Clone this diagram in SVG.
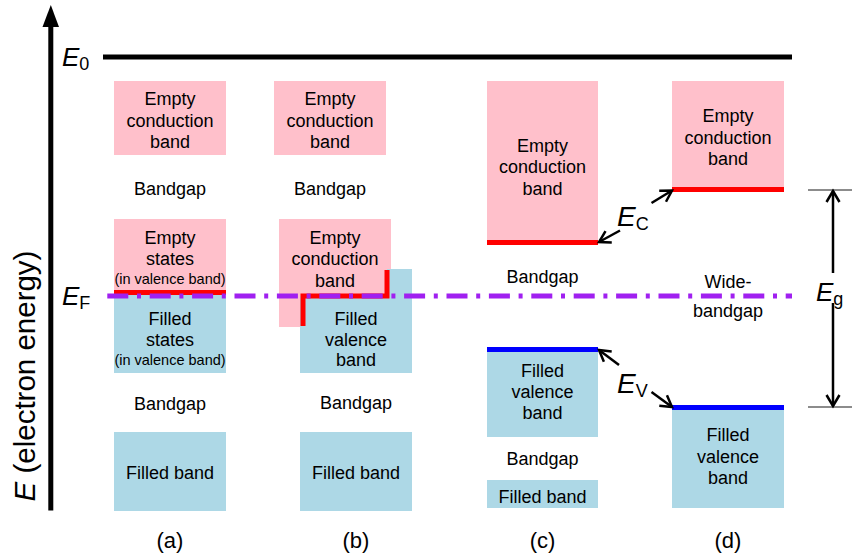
<svg xmlns="http://www.w3.org/2000/svg" width="852" height="557" viewBox="0 0 852 557">
<style>
.t{font-family:"Liberation Sans",Arial,Helvetica,sans-serif;font-size:18px;fill:#000;text-anchor:middle}
.s{font-size:14.5px}
.lab{font-family:"Liberation Sans",Arial,Helvetica,sans-serif;font-size:22px;fill:#000;text-anchor:middle}
.sym{font-family:"Liberation Sans",Arial,Helvetica,sans-serif;font-size:26px;font-style:italic;fill:#000}
.big{font-size:28px}
.sub{font-style:normal;font-size:18px}
.pk{fill:#ffc0cb}
.bl{fill:#add8e6}
.red{stroke:#ff0000;stroke-width:5;fill:none}
.blu{stroke:#0000ff;stroke-width:5;fill:none}
.arr{stroke:#000;stroke-width:2.5;fill:none}
.tick{stroke:#666;stroke-width:1.5}
</style>
<defs>
<marker id="ah" markerUnits="userSpaceOnUse" markerWidth="16" markerHeight="16" refX="13" refY="8" orient="auto-start-reverse" overflow="visible">
<path d="M2,1.5 L13,8 L2,14.5" fill="none" stroke="#000" stroke-width="2.5"/>
</marker>
</defs>
<rect width="852" height="557" fill="#fff"/>

<g id="axis">
<line x1="50.8" y1="24" x2="50.8" y2="510.5" stroke="#000" stroke-width="5"/>
<polygon points="50.8,5 42.5,27 59,27" fill="#000"/>
<text class="sym" style="font-size:29.5px" transform="translate(35,376) rotate(-90)" text-anchor="middle">E<tspan style="font-style:normal"> (electron energy)</tspan></text>
</g>

<g id="E0">
<line x1="103" y1="57" x2="792" y2="57" stroke="#000" stroke-width="5"/>
<text class="sym" x="62" y="66">E<tspan class="sub" dy="4">0</tspan></text>
</g>

<g id="col-a">
<rect class="pk" x="114" y="81" width="112" height="74"/>
<text class="t" x="170" y="105">Empty</text>
<text class="t" x="170" y="126.5">conduction</text>
<text class="t" x="170" y="148">band</text>
<text class="t" x="170" y="194.5">Bandgap</text>
<rect class="pk" x="114" y="219" width="112" height="74"/>
<text class="t" x="170" y="243.5">Empty</text>
<text class="t" x="170" y="265">states</text>
<text class="t s" x="170" y="284">(in valence band)</text>
<rect class="bl" x="114" y="293" width="112" height="80"/>
<line class="red" x1="114" y1="292.5" x2="226" y2="292.5"/>
<text class="t" x="170" y="325">Filled</text>
<text class="t" x="170" y="345.5">states</text>
<text class="t s" x="170" y="365">(in valence band)</text>
<text class="t" x="170" y="409.5">Bandgap</text>
<rect class="bl" x="114" y="432" width="112" height="79"/>
<text class="t" x="170" y="479">Filled band</text>
</g>

<g id="col-b">
<rect class="pk" x="274" y="81" width="112" height="74"/>
<text class="t" x="330" y="105">Empty</text>
<text class="t" x="330" y="126.5">conduction</text>
<text class="t" x="330" y="148">band</text>
<text class="t" x="330" y="194.5">Bandgap</text>
<rect class="pk" x="279" y="219" width="112" height="108"/>
<rect class="bl" x="300" y="269" width="112" height="104"/>
<rect class="pk" x="300" y="269" width="87" height="27"/>
<path class="red" d="M303,326 V296 H387 V270"/>
<text class="t" x="335" y="243.5">Empty</text>
<text class="t" x="335" y="265">conduction</text>
<text class="t" x="335" y="286.5">band</text>
<text class="t" x="356" y="325">Filled</text>
<text class="t" x="356" y="345.5">valence</text>
<text class="t" x="356" y="366">band</text>
<text class="t" x="356" y="408.5">Bandgap</text>
<rect class="bl" x="300" y="432" width="112" height="79"/>
<text class="t" x="356" y="479">Filled band</text>
</g>

<g id="col-c">
<rect class="pk" x="487" y="81" width="111" height="162"/>
<line class="red" x1="487" y1="242.5" x2="598" y2="242.5"/>
<text class="t" x="542.5" y="151.5">Empty</text>
<text class="t" x="542.5" y="173">conduction</text>
<text class="t" x="542.5" y="194.5">band</text>
<text class="t" x="542.5" y="282.5">Bandgap</text>
<rect class="bl" x="487" y="349" width="111" height="88"/>
<line class="blu" x1="487" y1="349.5" x2="598" y2="349.5"/>
<text class="t" x="542.5" y="377">Filled</text>
<text class="t" x="542.5" y="398">valence</text>
<text class="t" x="542.5" y="419">band</text>
<text class="t" x="542.5" y="465">Bandgap</text>
<rect class="bl" x="487" y="480" width="111" height="28"/>
<text class="t" x="542.5" y="503">Filled band</text>
</g>

<g id="col-d">
<rect class="pk" x="672" y="81" width="112" height="109"/>
<line class="red" x1="672" y1="189.5" x2="784" y2="189.5"/>
<text class="t" x="728" y="122">Empty</text>
<text class="t" x="728" y="143.5">conduction</text>
<text class="t" x="728" y="165">band</text>
<text class="t" x="728" y="287.5">Wide-</text>
<text class="t" x="728" y="316.5">bandgap</text>
<rect class="bl" x="672" y="407" width="112" height="101"/>
<line class="blu" x1="672" y1="407.5" x2="784" y2="407.5"/>
<text class="t" x="728" y="441">Filled</text>
<text class="t" x="728" y="462.5">valence</text>
<text class="t" x="728" y="483.5">band</text>
</g>

<g id="fermi">
<line x1="107.3" y1="296" x2="792" y2="296" stroke="#a020f0" stroke-width="5" stroke-dasharray="21 8.7 4 8.7"/>
<text class="sym" x="62" y="305">E<tspan class="sub" dy="4">F</tspan></text>
</g>

<g id="EC-label">
<text class="sym big" x="617" y="226">E<tspan class="sub" dy="4">C</tspan></text>
</g>
<g id="EV-label">
<text class="sym big" x="617" y="393">E<tspan class="sub" dy="4">V</tspan></text>
</g>
<g id="Eg-label">
<line class="tick" x1="808" y1="190" x2="852" y2="190"/>
<line class="tick" x1="808" y1="407" x2="852" y2="407"/>
<text class="sym" x="816" y="301">E<tspan class="sub" dy="4">g</tspan></text>
</g>

<g id="connectors">
<line class="arr" x1="620" y1="230.5" x2="599" y2="242" marker-end="url(#ah)"/>
<line class="arr" x1="651.5" y1="203" x2="672" y2="190.5" marker-end="url(#ah)"/>
<line class="arr" x1="619" y1="365" x2="599" y2="350" marker-end="url(#ah)"/>
<line class="arr" x1="651.5" y1="392" x2="672" y2="407" marker-end="url(#ah)"/>
<line class="arr" x1="833" y1="273" x2="833" y2="191" marker-end="url(#ah)"/>
<line class="arr" x1="833" y1="303" x2="833" y2="406" marker-end="url(#ah)"/>
</g>

<g id="captions">
<text class="lab" x="170" y="548">(a)</text>
<text class="lab" x="356" y="548">(b)</text>
<text class="lab" x="542.5" y="548">(c)</text>
<text class="lab" x="728" y="548">(d)</text>
</g>
</svg>
